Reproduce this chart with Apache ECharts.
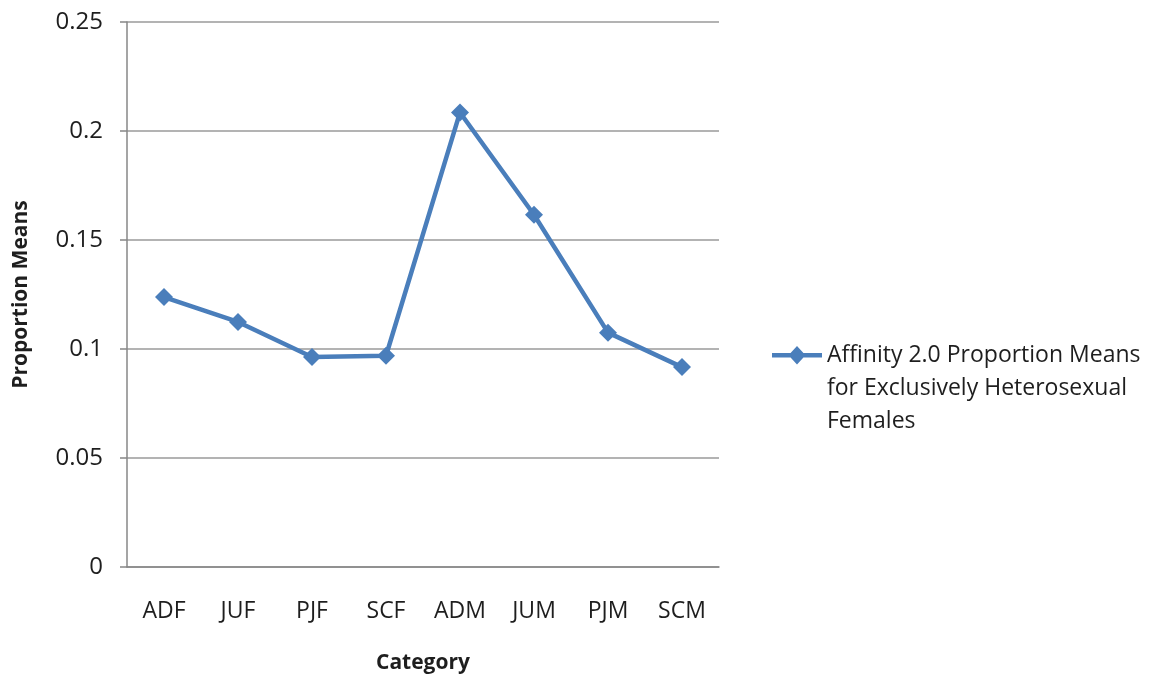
<!DOCTYPE html>
<html>
<head>
<meta charset="utf-8">
<script src="https://cdn.jsdelivr.net/npm/echarts@6/dist/echarts.min.js"></script>
<style>
  html, body { margin: 0; padding: 0; background: #ffffff; }
  #chart { width: 1157px; height: 675px; }
</style>
</head>
<body>
<div id="chart"></div>
<script>
// Category labels along the x axis
const categories = ['ADF', 'JUF', 'PJF', 'SCF', 'ADM', 'JUM', 'PJM', 'SCM'];
// Mean proportions per category
const proportionMeans = [0.1238, 0.1124, 0.0963, 0.0969, 0.2085, 0.1616, 0.1075, 0.0917];
const seriesName = 'Affinity 2.0 Proportion Means\nfor Exclusively Heterosexual\nFemales';

const FONT = '"Open Sans", "Liberation Sans", sans-serif';
const LINE_BLUE = '#4A7EBB';
const AXIS_GREY = '#878787';
const TEXT = '#1e1e1e';

// Legend key: a short line with a diamond, sitting at the first text line.
// The empty sub-paths stretch the bounding box so the key lines up with line one.
const LEGEND_KEY = 'path://M0 0L0 0Z M0 99L0 99Z M0 14L50 14L50 18.5L0 18.5Z M25 7L33.5 16.2L25 25.4L16.5 16.2Z';

const chart = echarts.init(document.getElementById('chart'));
chart.setOption({
  animation: false,
  backgroundColor: '#ffffff',
  textStyle: { fontFamily: FONT, color: TEXT },
  grid: { left: 127, right: 438, top: 22, bottom: 108, containLabel: false, outerBoundsMode: 'none' },
  legend: {
    left: 767,
    top: 334,
    orient: 'vertical',
    icon: LEGEND_KEY,
    itemWidth: 50,
    itemHeight: 99,
    itemGap: 0,
    selectedMode: false,
    data: [{ name: seriesName }],
    textStyle: {
      fontFamily: FONT,
      fontSize: 23,
      color: TEXT,
      lineHeight: 33
    }
  },
  xAxis: {
    type: 'category',
    data: categories,
    boundaryGap: true,
    name: 'Category',
    nameLocation: 'middle',
    nameGap: 86,
    nameTextStyle: { fontFamily: FONT, fontSize: 21, fontWeight: 'bold', color: TEXT },
    axisLine: { lineStyle: { color: AXIS_GREY, width: 1.5 } },
    axisTick: { show: false },
    axisLabel: { margin: 33, fontSize: 23, color: TEXT, fontFamily: FONT },
    splitLine: { show: false }
  },
  yAxis: {
    type: 'value',
    min: 0,
    max: 0.25,
    interval: 0.05,
    name: 'Proportion Means',
    nameLocation: 'middle',
    nameGap: 95,
    nameRotate: 90,
    nameTextStyle: { fontFamily: FONT, fontSize: 21, fontWeight: 'bold', color: TEXT },
    axisLine: { show: true, lineStyle: { color: AXIS_GREY, width: 1.5 } },
    axisTick: { show: true, inside: false, length: 7, lineStyle: { color: AXIS_GREY, width: 1.5 } },
    axisLabel: {
      margin: 24,
      fontSize: 24,
      color: TEXT,
      fontFamily: FONT,
      formatter: v => (v === 0 ? '0' : String(+v.toFixed(2)))
    },
    splitLine: { show: true, lineStyle: { color: '#9a9a9a', width: 1.5 } }
  },
  series: [{
    name: seriesName,
    type: 'line',
    data: proportionMeans,
    symbol: 'diamond',
    symbolSize: 18,
    lineStyle: { color: LINE_BLUE, width: 4.5 },
    itemStyle: { color: LINE_BLUE },
    emphasis: { disabled: true }
  }]
});
</script>
</body>
</html>
